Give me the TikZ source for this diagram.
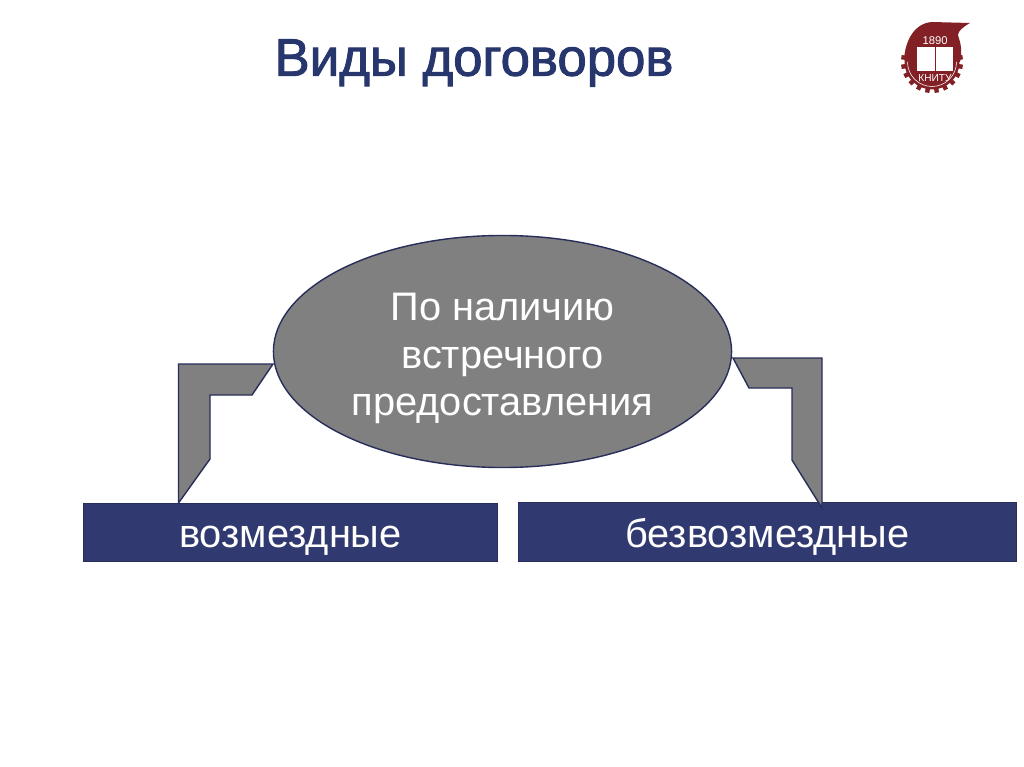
\documentclass[tikz,border=0pt]{standalone}
\usepackage{fontspec}
\setmainfont{Liberation Sans}
\newfontfamily\titlefont[FakeBold=1.8]{Liberation Sans}
\usepackage{xcolor}
\usetikzlibrary{positioning,shapes.geometric,calc}
\definecolor{titleblue}{RGB}{40,54,110}
\definecolor{boxblue}{RGB}{48,57,112}
\definecolor{edgeblue}{RGB}{40,46,90}
\definecolor{shapegray}{RGB}{128,128,128}
\definecolor{logored}{RGB}{130,32,38}
\tikzset{
  hubnode/.style={ellipse, draw=edgeblue, fill=shapegray, text=white, line width=1pt,
                  minimum width=11.45cm, minimum height=5.8cm, inner sep=0pt,
                  font=\fontsize{28.3}{33.8}\selectfont, align=center},
  kindbox/.style={draw=edgeblue, fill=boxblue, text=white, line width=0.7pt, inner sep=0pt,
                  minimum height=1.47cm, text height=22pt, text depth=0pt,
                  font=\fontsize{28.3}{33}\selectfont, align=center},
  bentarrow/.style={draw=edgeblue, fill=shapegray, line width=1pt, line join=miter},
  logotext/.style={text=white, inner sep=0pt}
}
\begin{document}
\begin{tikzpicture}[x=0.025cm,y=-0.025cm]
  \useasboundingbox (0,0) rectangle (1024,767);
  \fill[white] (0,0) rectangle (1024,767);

  % Title
  \node[text=titleblue, font=\titlefont\fontsize{37.5}{40}\selectfont] (title) at (474,63) {Виды договоров};

  % Logo
  \fill[logored] (970,23) -- (932,22) .. controls (915,23) and (905,40) .. (904,60)
     -- (960,62) .. controls (963,50) and (960,42) .. (958,35)
     .. controls (958,31) and (963,27) .. (970,23) -- cycle;
  \fill[logored] (932,62) circle[radius=27.5];
  \foreach \a in {-9,9,...,189} {
    \fill[logored, rotate around={-\a:(932,62)}] (957,59.8) rectangle (963,64.2);
  }
  \draw[white, line width=0.4pt] (956.5,62) arc[start angle=0, end angle=180, radius=24.5];
  \fill[white] (917,47) rectangle (953,71);
  \draw[logored, line width=0.5pt] (935,47) -- (935,71);
  \node[logotext, font=\fontsize{8}{8}\selectfont] (logoyear) at (935,41) {1890};
  \node[logotext, font=\fontsize{7.2}{8}\selectfont] (logoname) at (935,78) {КНИТУ};

  % Ellipse and boxes
  \node[hubnode] (hub) at (502.5,351.5) {\rule{0pt}{30pt}По наличию\\встречного\\предоставления};
  \node[kindbox, minimum width=10.37cm] (paid) at (290.5,532.5) {возмездные};
  \node[kindbox, minimum width=12.46cm] (free) at (767.5,532) {безвозмездные};

  % Bent arrows from the ellipse to the boxes
  \coordinate (paidroot) at (273,364);
  \coordinate (paidtip) at (178.5,503);
  \coordinate (freeroot) at (733,358);
  \coordinate (freetip) at (822,508);
  \draw[bentarrow] (paidroot) -- (paidroot -| paidtip) -- (paidtip) -- (210,459) -- (210,395) -- (252,395) -- cycle;
  \draw[bentarrow] (freeroot) -- (freeroot -| freetip) -- (freetip) -- (792,460) -- (792,388) -- (749,388) -- cycle;
\end{tikzpicture}
\end{document}
